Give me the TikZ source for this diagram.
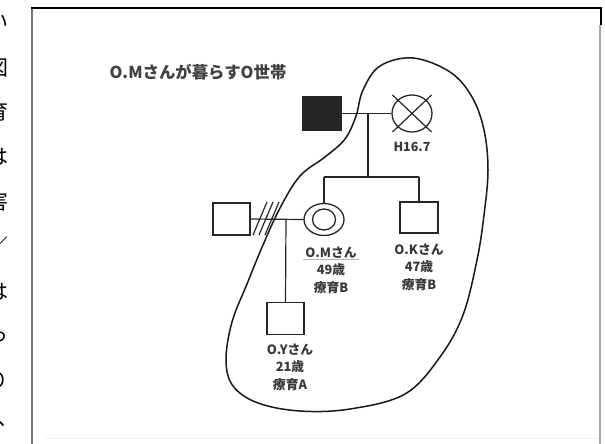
\documentclass[tikz,border=0pt]{standalone}
\usepackage{fontspec}
\newfontfamily\jp{Noto Sans CJK JP}
\usetikzlibrary{shapes.geometric}
\tikzset{
  sq/.style={draw=black!85, line width=1.3pt, rectangle, minimum width=37pt, minimum height=32pt, inner sep=0pt, fill=white},
  fsq/.style={sq, fill=black!85, minimum width=38pt, minimum height=33pt},
  ell/.style={draw=black!85, line width=1.3pt, ellipse, inner sep=0pt},
  ln/.style={draw=black!85, line width=1.2pt},
  lab/.style={font=\jp\bfseries\fontsize{12.8}{17.5}\selectfont, text=black!78, align=center, inner sep=0pt},
  side/.style={font=\jp\fontsize{21}{21}\selectfont, text=black, anchor=east, inner sep=0pt}
}
\begin{document}
\begin{tikzpicture}[x=1pt,y=-1pt]
\useasboundingbox (0,0) rectangle (605,444);
\clip (0,0) rectangle (605,444);
% page fragments on the left
\node[side] (s1) at (9,22) {い};
\node[side] (s2) at (9,68) {図};
\node[side] (s3) at (9,112) {育};
\node[side] (s4) at (9,157) {は};
\node[side] (s5) at (9,202) {害};
\node[side] (s6) at (9,247) {／};
\node[side] (s7) at (9,292) {は};
\node[side] (s8) at (9,337) {っ};
\node[side] (s9) at (9,381) {り};
\node[side, anchor=west] (s10) at (-3,424) {、};
% frame
\draw[black!55, line width=1.3pt] (32,444) -- (32,8);
\draw[black, line width=1.2pt] (31.4,8) -- (601,8) -- (601,25);
\draw[black!35, line width=2pt] (599.5,25) -- (599.5,444);
\draw[black!6, line width=1pt] (45,438) -- (598,438);
% title
\node[font=\jp\bfseries\fontsize{16.4}{16}\selectfont, text=black!75, inner sep=0pt] (title) at (198,72) {O.Mさんが暮らすO世帯};
% household outline
\draw[black!90, line width=1.5pt] plot[smooth cycle, tension=0.6] coordinates {
 (413,58) (450,72) (472,97) (484,130) (488,170) (484,215) (477,260) (463,315)
 (440,357) (405,394) (350,409) (300,411) (258,403) (233,386) (226,360) (232,322)
 (247,284) (263,245) (280,208) (300,176) (325,157) (345,139) (356,116) (363,90) (380,66)};
% parents
\node[fsq] (fa) at (322,113.5) {};
\node[ell, minimum width=40pt, minimum height=37pt] (mo) at (412,113.5) {};
\draw[ln] ([shift={(-19.5,-18.5)}]mo.center) -- ([shift={(19.5,18.5)}]mo.center);
\draw[ln] ([shift={(19.5,-18.5)}]mo.center) -- ([shift={(-19.5,18.5)}]mo.center);
\node[lab, font=\jp\bfseries\fontsize{12.5}{12.5}\selectfont] (h) at (412,147) {H16.7};
\draw[ln] (fa.east) -- (mo.west);
\coordinate (c1) at (368,113.5);
\coordinate (c2) at (368,177);
\coordinate (sl) at (324,177);
\coordinate (sr) at (419,177);
\draw[ln] (c1) -- (c2);
\draw[ln] (sl) -- (sr);
% children
\node[ell, minimum width=40pt, minimum height=32pt] (om) at (324,219.5) {};
\node[ell, minimum width=23pt, minimum height=21pt] (omi) at (324,219.5) {};
\node[sq, minimum width=38pt, minimum height=31pt] (ok) at (419,217.5) {};
\draw[ln] (sl) -- (om.north);
\draw[ln] (sr) -- (ok.north);
% ex-husband
\node[sq] (ex) at (231.5,219) {};
\draw[ln] (ex.east) -- (om.west);
\draw[ln] (253,235) -- (267,202);
\draw[ln] (259,235) -- (273,202);
\draw[ln] (265,235) -- (279,202);
\coordinate (c3) at (286,219.5);
\node[sq] (oy) at (285.5,318.5) {};
\draw[ln] (c3) -- (oy.north);
% labels
\node[lab] (omlab) at (331,270) {O.Mさん\\49歳\\療育B};
\draw[black!30, line width=0.6pt] (303,259) -- (359,259);
\node[lab] (oklab) at (419,267) {O.Kさん\\47歳\\療育B};
\node[lab] (oylab) at (290,367) {O.Yさん\\21歳\\療育A};
\end{tikzpicture}
\end{document}
